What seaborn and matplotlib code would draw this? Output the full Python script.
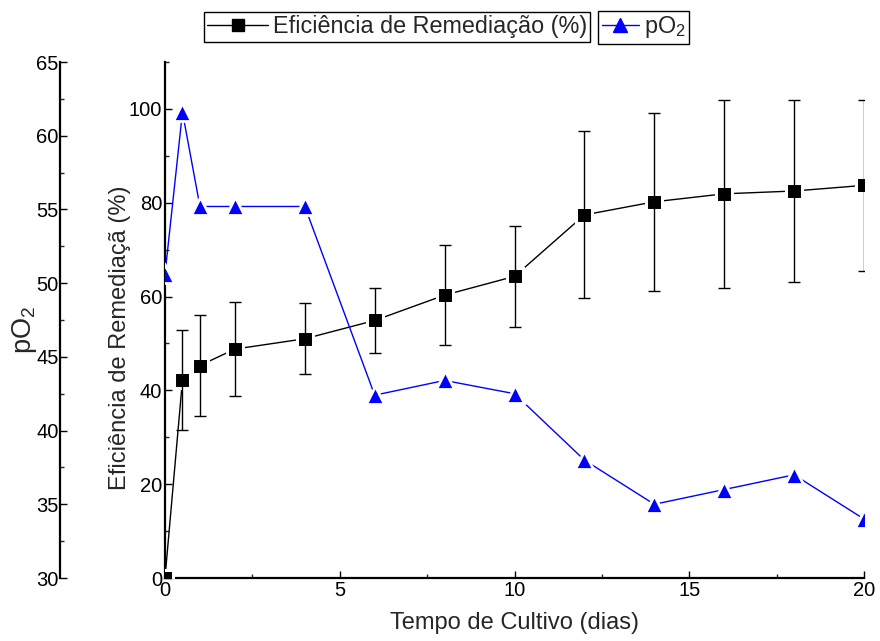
import numpy as np
import pandas as pd
import seaborn as sns
import matplotlib
matplotlib.use("Agg")
import matplotlib.pyplot as plt
from matplotlib.lines import Line2D
from matplotlib.ticker import MultipleLocator

# ---------------- data ----------------
days = [0, 0.5, 1, 2, 4, 6, 8, 10, 12, 14, 16, 18, 20]
eficiencia = [0, 42.2, 45.3, 48.8, 51.0, 54.9, 60.3, 64.3, 77.4, 80.2, 81.9, 82.5, 83.7]
erro = [0, 10.6, 10.8, 10.1, 7.6, 7.0, 10.7, 10.7, 17.8, 19.0, 20.0, 19.4, 18.2]
po2 = [50.6, 61.6, 55.2, 55.2, 55.2, 42.4, 43.4, 42.5, 38.0, 35.0, 36.0, 37.0, 34.0]

x_ticks = [0, 5, 10, 15, 20]
ef_ticks = [0, 20, 40, 60, 80, 100]
po2_ticks = [30, 35, 40, 45, 50, 55, 60, 65]

xlabel = "Tempo de Cultivo (dias)"
ylabel_ef = "Eficiência de Remediaçã (%)"
ylabel_po2 = "pO$_2$"
legend_ef = "Eficiência de Remediação (%)"
legend_po2 = "pO$_2$"

# ---------------- style ----------------
sns.set_style("white")
plt.rcParams["font.family"] = ["Liberation Sans", "DejaVu Sans"]
plt.rcParams["mathtext.fontset"] = "custom"
plt.rcParams["mathtext.rm"] = "Liberation Sans"
plt.rcParams["mathtext.it"] = "Liberation Sans:italic"

df = pd.DataFrame({"dias": days, "ef": eficiencia, "erro": erro, "po2": po2})

fig = plt.figure(figsize=(8.8, 6.41), dpi=100)
ax = fig.add_axes([165 / 880, 1 - 578 / 641, (864 - 165) / 880, (578 - 62) / 641])
ax2 = ax.twinx()

# efficiency series
sns.lineplot(data=df, x="dias", y="ef", ax=ax, color="black", linewidth=1,
             marker="s", markersize=11, markerfacecolor="black",
             markeredgecolor="white", markeredgewidth=2.2, errorbar=None,
             zorder=3)
ax.errorbar(df["dias"], df["ef"], yerr=df["erro"], fmt="none", ecolor="black",
            elinewidth=1, capsize=4.5, capthick=1, zorder=4)

# pO2 series
sns.lineplot(data=df, x="dias", y="po2", ax=ax2, color="#0000ff", linewidth=1,
             marker="^", markersize=12.5, markerfacecolor="#0000ff",
             markeredgecolor="white", markeredgewidth=2, errorbar=None,
             zorder=3)

# ---------------- axes ----------------
ax.set_xlim(0, 20)
ax.set_ylim(0, 110)
ax2.set_ylim(30, 65)

ax.set_xticks(x_ticks)
ax.set_yticks(ef_ticks)
ax2.set_yticks(po2_ticks)
ax.xaxis.set_minor_locator(MultipleLocator(2.5))
ax.yaxis.set_minor_locator(MultipleLocator(10))
ax2.yaxis.set_minor_locator(MultipleLocator(2.5))

for s in ["top", "right"]:
    ax.spines[s].set_visible(False)
for s in ["top", "right", "bottom"]:
    ax2.spines[s].set_visible(False)
ax.spines["left"].set_linewidth(1.6)
ax.spines["bottom"].set_linewidth(1.6)
ax.spines["left"].set_color("black")
ax.spines["bottom"].set_color("black")

ax2.spines["left"].set_visible(True)
ax2.spines["left"].set_position(("axes", (60 - 165) / (864 - 165)))
ax2.spines["left"].set_linewidth(1.6)
ax2.spines["left"].set_color("black")
ax2.yaxis.set_ticks_position("left")
ax2.yaxis.set_label_position("left")

ax.tick_params(axis="both", which="major", direction="in", length=5, width=1,
               labelsize=14.5, pad=2, colors="black", left=True, bottom=True)
ax.tick_params(axis="both", which="minor", direction="in", length=3, width=1,
               left=True, bottom=True)
ax2.tick_params(axis="y", which="major", direction="in", length=5, width=1,
                labelsize=14.5, pad=1, colors="black")
ax2.tick_params(axis="y", which="minor", direction="in", length=3, width=1)

ax.set_xlabel(xlabel, fontsize=17)
ax.set_ylabel(ylabel_ef, fontsize=17)
ax2.set_ylabel(ylabel_po2, fontsize=19.5)
ax.xaxis.set_label_coords(0.5, -0.065)
ax.yaxis.set_label_coords(-0.048, 0.466)
ax2.yaxis.set_label_coords(-0.18, 0.48)

ax.patch.set_visible(False)
ax2.patch.set_visible(False)

# ---------------- legends ----------------
h_ef = Line2D([], [], color="black", linewidth=1, marker="s", markersize=8.5,
              markerfacecolor="black", markeredgecolor="black")
h_po2 = Line2D([], [], color="#0000ff", linewidth=1, marker="^", markersize=10.5,
               markerfacecolor="#0000ff", markeredgecolor="#0000ff")
common = dict(loc="center", frameon=True, fancybox=False, framealpha=1,
              edgecolor="black", fontsize=16.8, borderpad=0.15,
              handletextpad=0.2, borderaxespad=0)
leg1 = fig.legend(handles=[h_ef], labels=[legend_ef],
                  bbox_to_anchor=(397 / 880, 1 - 27 / 641),
                  handlelength=2.6, **common)
leg2 = fig.legend(handles=[h_po2], labels=[legend_po2],
                  bbox_to_anchor=(643.5 / 880, 1 - 27 / 641),
                  handlelength=1.6, **common)
for lg in (leg1, leg2):
    lg.get_frame().set_linewidth(1)

fig.savefig("out.png", dpi=100)
